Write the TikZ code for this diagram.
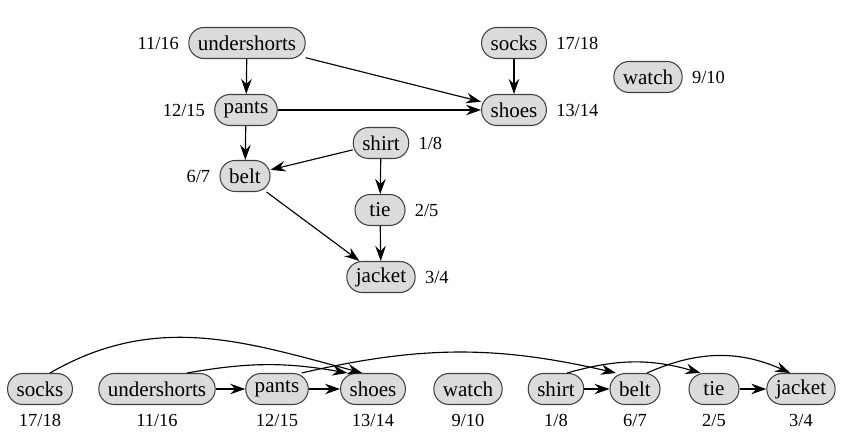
\documentclass[tikz,border=0pt]{standalone}
\usepackage{fontspec}
\setmainfont{Liberation Serif}
\usetikzlibrary{arrows.meta,positioning}

\begin{document}
\begin{tikzpicture}[x=0.02cm,y=-0.02cm,node distance=0.18cm,
    >={Stealth[length=0.3cm,width=0.21cm,inset=0.1cm]},
    garment/.style={draw=black!75,fill=black!14,line width=0.6pt,rounded corners=0.305cm,
        minimum height=0.62cm,minimum width=1cm,inner xsep=0.18cm,inner ysep=0pt,
        font=\rmfamily\fontsize{12}{14}\selectfont},
    stamp/.style={inner sep=0pt,font=\rmfamily\fontsize{10.5}{12}\selectfont},
    every edge/.style={draw,line width=0.65pt}]
    \useasboundingbox (0,0) rectangle (843,439);
    % dependency graph
    \node[garment] (us) at (247,43) {undershorts};
    \node[garment] (so) at (514,43) {socks};
    \node[garment] (wa) at (648,77) {watch};
    \node[garment] (pa) at (246,110) {pants};
    \node[garment] (sh) at (514,110) {shoes};
    \node[garment] (si) at (381,143) {shirt};
    \node[garment] (be) at (245,176) {belt};
    \node[garment] (ti) at (380,210) {tie};
    \node[garment] (ja) at (381,277) {jacket};
    \node[stamp] [left=of us] {11/16};
    \node[stamp] [right=of so] {17/18};
    \node[stamp] [right=of wa] {9/10};
    \node[stamp] [left=of pa] {12/15};
    \node[stamp] [right=of sh] {13/14};
    \node[stamp] [right=of si] {1/8};
    \node[stamp] [left=of be] {6/7};
    \node[stamp] [right=of ti] {2/5};
    \node[stamp] [right=of ja] {3/4};
    \path[->]
        (us) edge (pa)
             edge (sh)
        (so) edge (sh)
        (pa) edge (sh)
             edge (be)
        (si) edge (be)
             edge (ti)
        (ti) edge (ja)
        (be) edge (ja);
    % topological order
    \node[garment] (so2) at (40,389) {socks};
    \node[garment] (us2) at (157,389) {undershorts};
    \node[garment] (pa2) at (277,389) {pants};
    \node[garment] (sh2) at (373,389) {shoes};
    \node[garment] (wa2) at (468,389) {watch};
    \node[garment] (si2) at (556,389) {shirt};
    \node[garment] (be2) at (635,389) {belt};
    \node[garment] (ti2) at (714,389) {tie};
    \node[garment] (ja2) at (801,389) {jacket};
    \node[stamp] [below=of so2] {17/18};
    \node[stamp] [below=of us2] {11/16};
    \node[stamp] [below=of pa2] {12/15};
    \node[stamp] [below=of sh2] {13/14};
    \node[stamp] [below=of wa2] {9/10};
    \node[stamp] [below=of si2] {1/8};
    \node[stamp] [below=of be2] {6/7};
    \node[stamp] [below=of ti2] {2/5};
    \node[stamp] [below=of ja2] {3/4};
    \path[->]
        (so2.58) edge [out=30,in=165] (sh2.124)
        (us2) edge (pa2)
        (us2.28) edge [bend left=10] (sh2.148)
        (pa2) edge (sh2)
        (pa2.33) edge [bend left=13] (be2.140)
        (si2) edge (be2)
        (si2.55) edge [bend left=16] (ti2.130)
        (be2.53) edge [bend left=24] (ja2.124)
        (ti2) edge (ja2);
\end{tikzpicture}
\end{document}
